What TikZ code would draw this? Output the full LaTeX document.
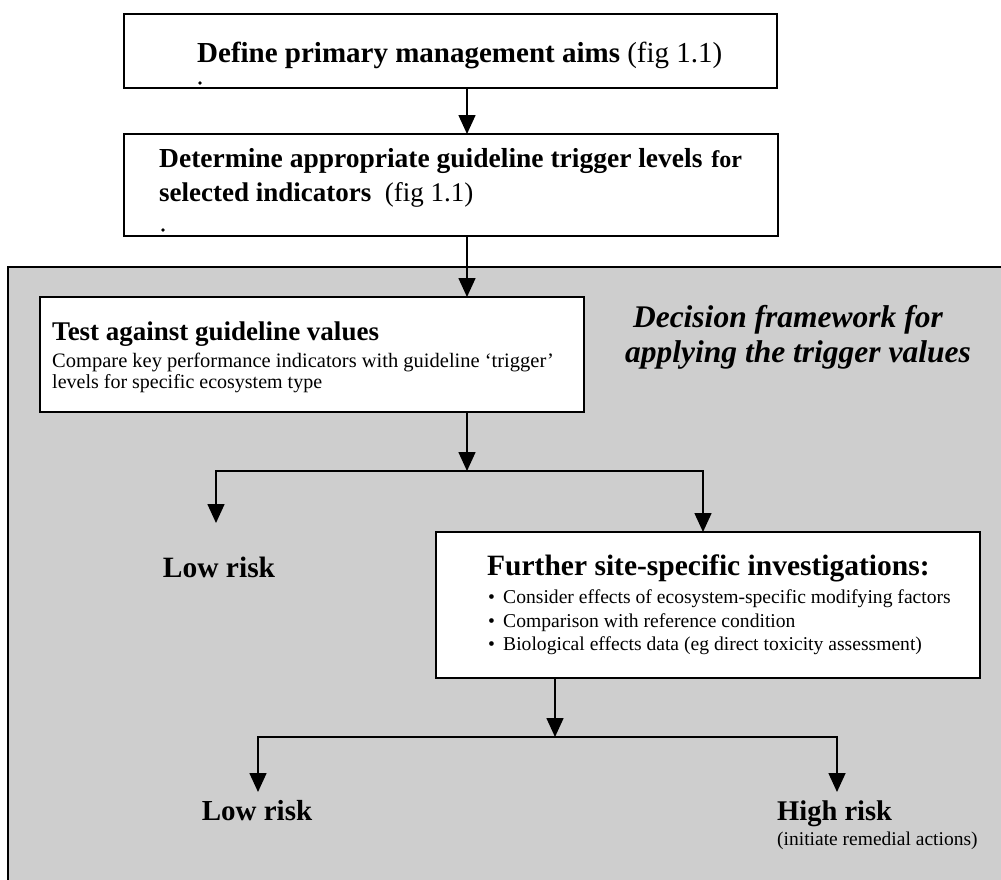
\documentclass[tikz,border=0pt]{standalone}
\usepackage{fontspec}
\setmainfont{Liberation Serif}
\usetikzlibrary{arrows.meta}
\definecolor{panel}{RGB}{206,206,206}
\newcommand{\fsz}[1]{\fontsize{#1pt}{#1pt}\selectfont}
\begin{document}
\begin{tikzpicture}[x=1pt,y=-1pt,
  box/.style={draw=black, line width=1.7pt, fill=white, inner sep=0pt, outer sep=0pt, anchor=north west},
  txt/.style={inner sep=0pt, anchor=base west},
  ctxt/.style={inner sep=0pt, anchor=base},
  conn/.style={line width=1.6pt, line cap=rect},
  arr/.style={line width=1.6pt, -{Triangle[length=19pt,width=17pt]}}]
\useasboundingbox (0,0) rectangle (1001,879);
% panel
\node[box, fill=panel, line width=1.4pt, minimum width=1010pt, minimum height=630pt] (panel) at (8,267) {};
% boxes
\node[box, minimum width=653pt, minimum height=74pt] (b1) at (124,14) {};
\node[box, minimum width=654pt, minimum height=102pt] (b2) at (124,134) {};
\node[box, minimum width=544pt, minimum height=115pt] (test) at (40,297) {};
\node[box, minimum width=544pt, minimum height=146pt] (fur) at (436,532) {};
% coordinates
\coordinate (mx) at (467,0);
\coordinate (s1) at (467,471);
\coordinate (s1l) at (216,471);
\coordinate (s1r) at (703,471);
\coordinate (t1) at (216,523);
\coordinate (s2) at (555,737);
\coordinate (s2l) at (258,737);
\coordinate (s2r) at (837,737);
\coordinate (t2l) at (258,792);
\coordinate (t2r) at (837,792);
% connectors
\draw[arr] (b1.south -| mx) -- (b2.north -| mx);
\draw[arr] (b2.south -| mx) -- (test.north -| mx);
\draw[arr] (test.south -| mx) -- (s1);
\draw[conn] (s1l) -- (s1r);
\draw[arr] (s1l) -- (t1);
\draw[arr] (s1r) -- (fur.north -| s1r);
\draw[arr] (fur.south -| s2) -- (s2);
\draw[conn] (s2l) -- (s2r);
\draw[arr] (s2l) -- (t2l);
\draw[arr] (s2r) -- (t2r);
% texts
\node[txt] (b1t) at (197,62) {\fsz{29}\textbf{Define primary management aims} (fig 1.1)};
\fill (200,83) circle (1.8pt);
\node[txt] (b2t1) at (159,167) {\fsz{27.5}\textbf{Determine appropriate guideline trigger levels}\hspace{9pt}{\fsz{24}\textbf{for}}};
\node[txt] (b2t2) at (159,201) {\fsz{27}\textbf{selected indicators}\ \ (fig 1.1)};
\fill (163,230) circle (1.8pt);
\node[txt] (tt1) at (52,340) {\fsz{27}\textbf{Test against guideline values}};
\node[txt] (tt2) at (52,367) {\fsz{20.5}Compare key performance indicators with guideline `trigger'};
\node[txt] (tt3) at (52,388) {\fsz{20}levels for specific ecosystem type};
\node[ctxt] (dec1) at (788,327) {\fsz{31.5}\textbf{\textit{Decision framework for}}};
\node[ctxt] (dec2) at (798,362) {\fsz{31.5}\textbf{\textit{applying the trigger values}}};
\node[ctxt] (low1) at (219,577) {\fsz{29.5}\textbf{Low risk}};
\node[txt] (ft) at (487,575) {\fsz{29.5}\textbf{Further site-specific investigations:}};
\node[txt] (fb1) at (488,603) {\fsz{19.6}\textbullet};
\node[txt] (fi1) at (503,603) {\fsz{19.6}Consider effects of ecosystem-specific modifying factors};
\node[txt] (fb2) at (488,627) {\fsz{19.6}\textbullet};
\node[txt] (fi2) at (503,627) {\fsz{19.6}Comparison with reference condition};
\node[txt] (fb3) at (488,650) {\fsz{19.6}\textbullet};
\node[txt] (fi3) at (503,650) {\fsz{19.6}Biological effects data (eg direct toxicity assessment)};
\node[ctxt] (low2) at (257,820) {\fsz{29}\textbf{Low risk}};
\node[txt] (high) at (777,820) {\fsz{28.5}\textbf{High risk}};
\node[txt] (rem) at (777,845) {\fsz{19.5}(initiate remedial actions)};
\end{tikzpicture}
\end{document}
